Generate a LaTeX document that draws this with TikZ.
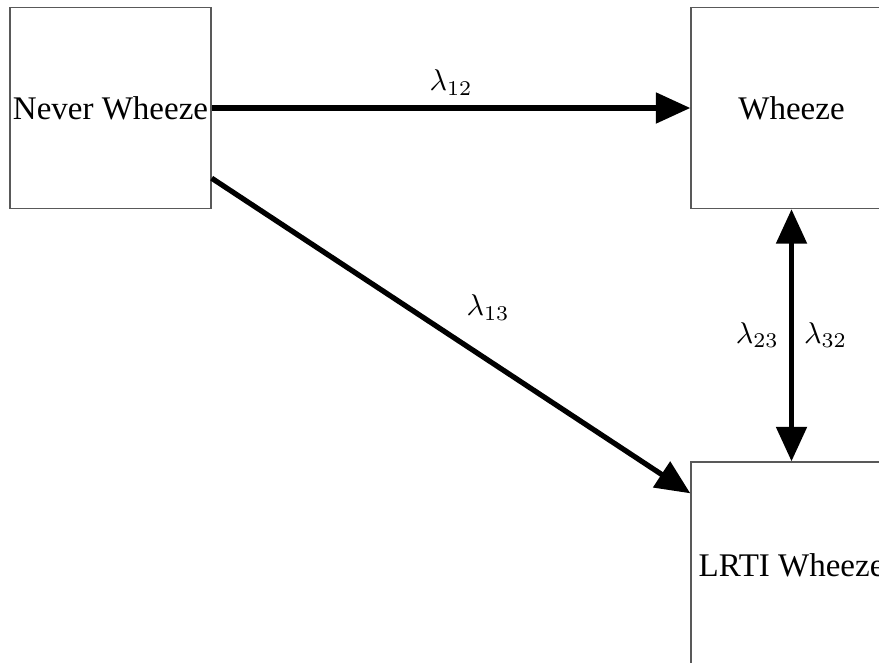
\documentclass[tikz,border=0pt]{standalone}
\usepackage{fontspec}
\setmainfont{Liberation Serif}
\usetikzlibrary{arrows.meta,calc}
\tikzset{
  statebox/.style={draw=black!65, line width=0.45pt, rectangle, inner sep=0pt,
    minimum width=201*0.3333pt, minimum height=201*0.3333pt,
    font=\fontsize{11pt}{13pt}\selectfont},
  trans/.style={line width=1.75pt, -{Triangle[length=11.5pt,width=10pt]}},
  both/.style={line width=1.75pt, {Triangle[length=11.5pt,width=10pt]}-{Triangle[length=11.5pt,width=10pt]}},
  rate/.style={inner sep=3.33pt}
}
\begin{document}
\begin{tikzpicture}[x=0.3333pt, y=-0.3333pt]
\useasboundingbox (0,0) rectangle (879,662);
\node[statebox] (nw) at (110.5,108) {Never Wheeze};
\node[statebox] (wz) at (791.5,108) {Wheeze};
\node[statebox, minimum height=206*0.3333pt] (lr) at (791.5,565) {LRTI Wheeze};
\coordinate (dstart) at ($(nw.south east)+(0,-31)$);
\coordinate (dend) at ($(lr.north west)+(0,32)$);
\draw[trans] (nw.east) -- node[rate, above] {$\lambda_{12}$} (wz.west);
\draw[trans] (dstart) -- node[rate, pos=0.5, above right, xshift=1pt, yshift=1pt] {$\lambda_{13}$} (dend);
\draw[both] (wz.south) -- node[rate, left] {$\lambda_{23}$} node[rate, right] {$\lambda_{32}$} (lr.north);
\end{tikzpicture}
\end{document}
